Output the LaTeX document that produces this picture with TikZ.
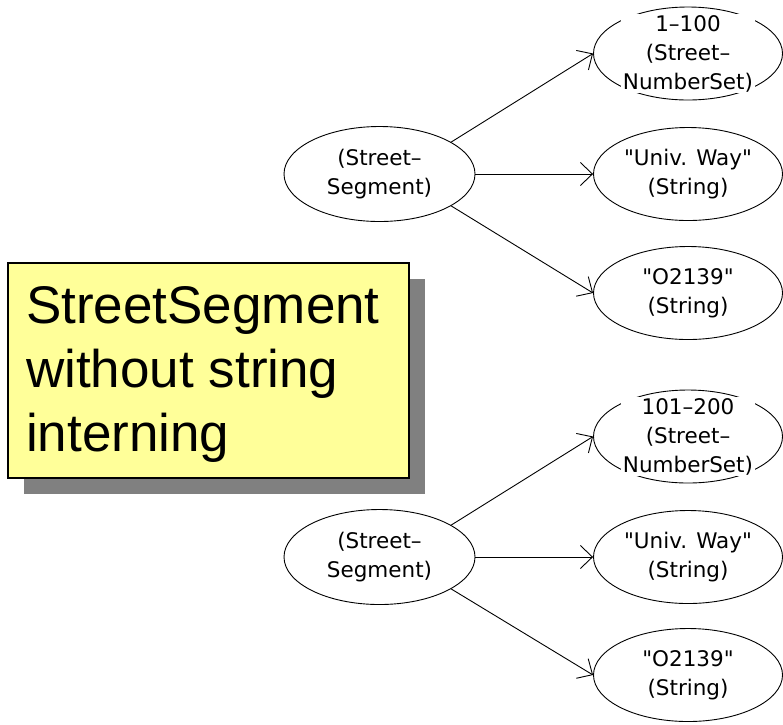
\documentclass[tikz,border=0pt]{standalone}
\usepackage{fontspec}
\setmainfont{Liberation Sans}
\newfontfamily\efont{DejaVu Sans}[Ligatures=ResetAll]
\usetikzlibrary{arrows.meta,shapes.geometric,shadows}
\definecolor{noteyellow}{HTML}{FFFF99}
\definecolor{shadowgray}{HTML}{808080}
\begin{document}
\begin{tikzpicture}[x=1pt,y=-1pt,
  ell/.style={draw, ellipse, line width=0.9pt, minimum width=189pt, minimum height=93pt, inner sep=0pt},
  lell/.style={ell, minimum width=191pt, minimum height=95pt},
  etext/.style={fill=white, inner sep=1.5pt, align=center, font=\efont\fontsize{21.5}{29}\selectfont},
  conn/.style={line width=0.9pt, -{Straight Barb[length=12pt,width=23pt,line width=0.9pt]}},
  note/.style={draw, line width=1.2pt, fill=noteyellow, minimum width=401pt, minimum height=215pt, inner sep=0pt,
    drop shadow={shadow xshift=16pt, shadow yshift=-16pt, fill=shadowgray, opacity=1}},
  notetext/.style={inner sep=0pt, align=left, font=\fontsize{53}{64}\selectfont}]
\useasboundingbox (0,0) rectangle (783,724);

% note box
\node[note] (box) at (208.5,370.5) {};
\node[notetext, anchor=north west] (boxtext) at (26,286) {StreetSegment\\without string\\interning};

% top group
\node[lell] (s1) at (379.5,174) {};
\node[etext] (s1t) at (s1) {(Street–\\Segment)};
\node[ell] (a1) at (688,53.5) {};
\node[etext] (a1t) at (a1) {1–100\\(Street–\\NumberSet)};
\node[ell] (b1) at (688,174) {};
\node[etext] (b1t) at (b1) {"Univ. Way"\\(String)};
\node[ell] (c1) at (688,293) {};
\node[etext] (c1t) at (c1) {"O2139"\\(String)};
\draw[conn] (s1.24) -- (a1.west);
\draw[conn] (s1.east) -- (b1.west);
\draw[conn] (s1.-24) -- (c1.west);

% bottom group
\node[lell] (s2) at (379.5,557) {};
\node[etext] (s2t) at (s2) {(Street–\\Segment)};
\node[ell] (a2) at (688,436.5) {};
\node[etext] (a2t) at (a2) {101–200\\(Street–\\NumberSet)};
\node[ell] (b2) at (688,557) {};
\node[etext] (b2t) at (b2) {"Univ. Way"\\(String)};
\node[ell] (c2) at (688,675) {};
\node[etext] (c2t) at (c2) {"O2139"\\(String)};
\draw[conn] (s2.24) -- (a2.west);
\draw[conn] (s2.east) -- (b2.west);
\draw[conn] (s2.-24) -- (c2.west);
\end{tikzpicture}
\end{document}
